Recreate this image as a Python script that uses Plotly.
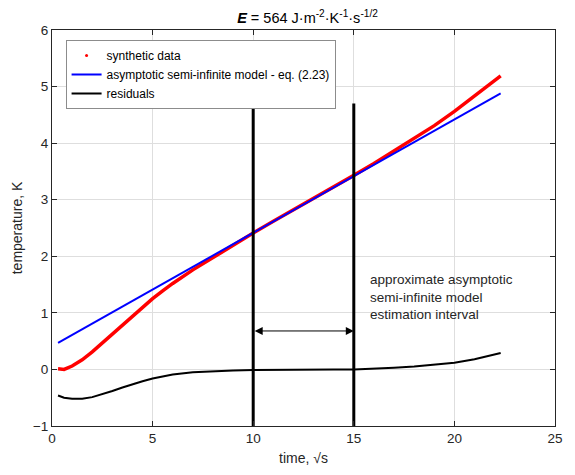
import plotly.graph_objects as go

# synthetic data (time in sqrt(s), temperature in K)
data_t = [0.3, 0.6, 1.0, 1.5, 2.0, 2.5, 3.0, 3.5, 4.0, 4.5, 5.0, 5.5, 6.0, 7.0, 8.0, 9.0,
          10, 11, 12, 13, 14, 15, 16, 17, 18, 19, 20, 21, 22, 22.3]
data_T = [0.01, 0.00, 0.06, 0.17, 0.31, 0.47, 0.63, 0.79, 0.95, 1.10, 1.25, 1.39, 1.52, 1.76,
          1.98, 2.20, 2.41, 2.62, 2.82, 3.02, 3.22, 3.43, 3.64, 3.86, 4.08, 4.31, 4.56, 4.83,
          5.11, 5.19]

# asymptotic semi-infinite model line (end points)
model_t = [0.3, 22.3]
model_T = [0.47, 4.88]

# residuals
res_t = [0.3, 0.6, 1.0, 1.5, 2.0, 2.5, 3.0, 3.5, 4.0, 4.5, 5.0, 5.5, 6.0, 7.0, 8.0, 9.0,
         10, 11, 12, 13, 14, 15, 16, 17, 18, 19, 20, 21, 22, 22.3]
res_T = [-0.46, -0.50, -0.52, -0.52, -0.49, -0.44, -0.38, -0.32, -0.26, -0.21, -0.16, -0.12,
         -0.09, -0.05, -0.03, -0.02, -0.01, -0.005, 0.0, 0.0, 0.0, 0.0, 0.01, 0.03, 0.05,
         0.08, 0.12, 0.18, 0.26, 0.29]

# estimation interval bounds
interval = [10, 15]
interval_y = [-1, 4.7]
arrow_y = 0.68

x_ticks = [0, 5, 10, 15, 20, 25]
y_ticks = [-1, 0, 1, 2, 3, 4, 5, 6]

ink = "#262626"
fig = go.Figure()

fig.add_trace(go.Scatter(x=data_t, y=data_T, mode="lines", line=dict(color="red", width=3.5),
                         showlegend=False, hoverinfo="skip"))
fig.add_trace(go.Scatter(x=[None], y=[None], mode="markers", marker=dict(color="red", size=3),
                         name="synthetic data"))
fig.add_trace(go.Scatter(x=model_t, y=model_T, mode="lines", line=dict(color="#0000ff", width=2),
                         name="asymptotic semi-infinite model - eq. (2.23)"))
fig.add_trace(go.Scatter(x=res_t, y=res_T, mode="lines", line=dict(color="black", width=2),
                         name="residuals"))
for xv in interval:
    fig.add_trace(go.Scatter(x=[xv, xv], y=interval_y, mode="lines",
                             line=dict(color="black", width=3), showlegend=False, hoverinfo="skip"))

fig.add_annotation(x=interval[1], y=arrow_y, ax=interval[0], ay=arrow_y, xref="x", yref="y",
                   axref="x", ayref="y", text="", showarrow=True, arrowhead=2, startarrowhead=2,
                   arrowside="end+start", arrowwidth=1, arrowsize=1.6, arrowcolor="black")
fig.add_annotation(x=15.7, y=1.76, xref="x", yref="y", xanchor="left", yanchor="top", align="left",
                   showarrow=False,
                   text="approximate asymptotic<br>semi-infinite model<br>estimation interval",
                   font=dict(size=13.5, color=ink))

axis_common = dict(showline=True, linecolor=ink, linewidth=1, mirror="ticks", ticks="inside",
                   ticklen=5, tickcolor=ink, showgrid=True, gridcolor="#dedede", gridwidth=1,
                   zeroline=False, tickfont=dict(size=13.5, color=ink))

fig.update_layout(
    width=575, height=475,
    margin=dict(l=52, r=12, t=30, b=47),
    paper_bgcolor="white", plot_bgcolor="white",
    font=dict(family="Liberation Sans, Arial, sans-serif", color=ink),
    title=dict(text="<b><i>E</i></b> = 564 J·m<sup>-2</sup>·K<sup>-1</sup>·s<sup>-1/2</sup>",
               x=0.5 + (52 - 12) / 2 / 575, xanchor="center", y=0.962, yanchor="middle",
               font=dict(size=14.5, color="black")),
    xaxis=dict(range=[0, 25], tickvals=x_ticks, title=dict(text="time, √s", font=dict(size=14, color=ink),
               standoff=7), **axis_common),
    yaxis=dict(range=[-1, 6], tickvals=y_ticks, title=dict(text="temperature, K", font=dict(size=14, color=ink),
               standoff=6), **axis_common),
    legend=dict(x=0.027, y=0.975, xanchor="left", yanchor="top", bgcolor="white",
                bordercolor="#8c8c8c", borderwidth=1, font=dict(size=12, color="black"),
                tracegroupgap=0, itemwidth=30),
)

fig.write_html("out.html")
